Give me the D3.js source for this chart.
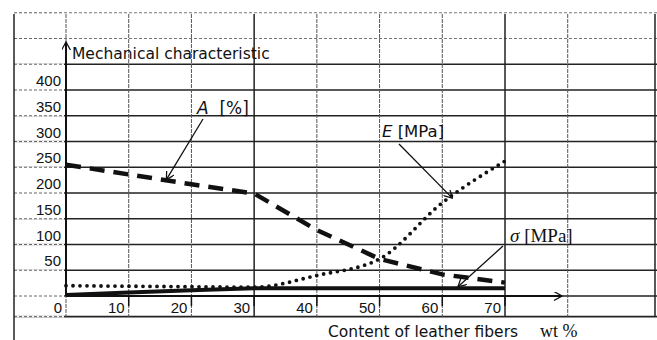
<!DOCTYPE html>
<html>
<head>
<meta charset="UTF-8">
<title>Mechanical characteristic</title>
<script src="https://cdn.jsdelivr.net/npm/d3@7"></script>
<style>
  body { margin: 0; background: #fff; }
  text { fill: #111; }
</style>
</head>
<body>
<script>
// data
var fiber = [0, 10, 20, 30, 40, 50, 60, 70];          // wt % of leather fibers
var seriesA = [255, 236, 217, 199, 128, 72, 42, 26];  // A [%]
var seriesE = [20, 19, 18, 17, 40, 72, 181, 262];     // E [MPa]
var seriesS = [2, 7, 11, 15, 15, 15, 15, 15];         // sigma [MPa]
var yTicks = [0, 50, 100, 150, 200, 250, 300, 350, 400];
var xTicks = [10, 20, 30, 40, 50, 60, 70];

var W = 657, H = 340;

var svg = d3.select("body").append("svg")
            .attr("width", W)
            .attr("height", H);

svg.append("rect").attr("width", W).attr("height", H).attr("fill", "#fff");

var x = d3.scaleLinear().domain([0, 70]).range([66, 505]);
var y = d3.scaleLinear().domain([0, 400]).range([296, 90]);

var defs = svg.append("defs");
defs.append("marker")
    .attr("id", "tip")
    .attr("viewBox", "0 0 10 10")
    .attr("refX", 9).attr("refY", 5)
    .attr("markerWidth", 9).attr("markerHeight", 9)
    .attr("markerUnits", "userSpaceOnUse")
    .attr("orient", "auto")
  .append("path")
    .attr("d", "M0,0 L9,5 L0,10")
    .attr("fill", "none")
    .attr("stroke", "#111")
    .attr("stroke-width", 1.4);

//GRID (the table behind the chart)
var rows = d3.range(-50, 600, 50).map(function (v) { return v === -50 ? y(-40) : y(v); });
var cols = [14].concat(d3.range(0, 90, 10).map(function (v) { return x(v); })).concat([655]);
var g = svg.append("g");

rows.forEach(function (ry, i) {
  var light = ry < 50;
  g.append("line")
   .attr("x1", 14).attr("x2", W)
   .attr("y1", ry).attr("y2", ry)
   .attr("stroke", light ? "#777" : "#222")
   .attr("stroke-width", light ? 1 : 1.6)
   .attr("stroke-dasharray", light ? "3,2" : null);
  // left margin cells are fainter
  g.append("line")
   .attr("x1", 14).attr("x2", 64)
   .attr("y1", ry).attr("y2", ry)
   .attr("stroke", "#fff").attr("stroke-width", 2);
  g.append("line")
   .attr("x1", 14).attr("x2", 64)
   .attr("y1", ry).attr("y2", ry)
   .attr("stroke", "#666").attr("stroke-width", 1)
   .attr("stroke-dasharray", "3,2");
});

cols.forEach(function (cx, i) {
  var bold = (i === 0 || i === 4 || i === 8 || i === cols.length - 1);
  g.append("line")
   .attr("x1", cx).attr("x2", cx)
   .attr("y1", 14).attr("y2", i === 0 ? H : y(-40))
   .attr("stroke", bold ? "#222" : "#555")
   .attr("stroke-width", bold ? 1.5 : 1)
   .attr("stroke-dasharray", bold ? null : "4,1");
});

//AXES
svg.append("line")
   .attr("x1", x(0)).attr("x2", x(0))
   .attr("y1", y(0)).attr("y2", 42)
   .attr("stroke", "#111").attr("stroke-width", 2)
   .attr("marker-end", "url(#tip)");
svg.append("line")
   .attr("x1", x(0)).attr("x2", 562)
   .attr("y1", y(0)).attr("y2", y(0))
   .attr("stroke", "#111").attr("stroke-width", 2)
   .attr("marker-end", "url(#tip)");

svg.selectAll(".xtick")
   .data(xTicks)
   .enter().append("line")
   .attr("x1", function (d) { return x(d); })
   .attr("x2", function (d) { return x(d); })
   .attr("y1", y(0)).attr("y2", y(0) + 10)
   .attr("stroke", "#111").attr("stroke-width", 1.5);

svg.selectAll(".xlab")
   .data([0].concat(xTicks))
   .enter().append("text")
   .attr("x", function (d) { return x(d) - 4; })
   .attr("y", 313)
   .attr("text-anchor", "end")
   .style("font", "15px 'Liberation Sans', sans-serif")
   .text(function (d) { return d; });

svg.selectAll(".ylab")
   .data(yTicks.slice(1))
   .enter().append("text")
   .attr("x", 61)
   .attr("y", function (d) { return y(d) - 4; })
   .attr("text-anchor", "end")
   .style("font", "15px 'Liberation Sans', sans-serif")
   .text(function (d) { return d; });

svg.append("text")
   .attr("x", 72).attr("y", 59)
   .style("font", "15.5px 'DejaVu Sans', sans-serif")
   .text("Mechanical characteristic");

var xt = svg.append("text")
   .attr("x", 328).attr("y", 337)
   .style("font", "15.5px 'DejaVu Sans', sans-serif");
xt.append("tspan").text("Content of leather fibers");
xt.append("tspan").attr("x", 540)
  .style("font", "18px 'Liberation Serif', serif").text("wt %");

//SERIES
var line = d3.line()
             .x(function (d, i) { return x(fiber[i]); })
             .y(function (d) { return y(d); });

svg.append("path")
   .attr("d", line(seriesS))
   .attr("fill", "none").attr("stroke", "#111")
   .attr("stroke-width", 4);

svg.append("path")
   .attr("d", line.curve(d3.curveMonotoneX)(seriesE))
   .attr("fill", "none").attr("stroke", "#111")
   .attr("stroke-width", 3.8)
   .attr("stroke-linecap", "round")
   .attr("stroke-dasharray", "0,7");

svg.append("path")
   .attr("d", line.curve(d3.curveLinear)(seriesA))
   .attr("fill", "none").attr("stroke", "#111")
   .attr("stroke-width", 4.5)
   .attr("stroke-dasharray", "15,9");

//LABELS with pointer lines (tip given in data units)
var notes = [
  { name: "A", unit: "  [%]", tx: 16, ty: 226, lx: 197, ly: 114, sx: 203, sy: 119, size: 17, font: "'DejaVu Sans', sans-serif" },
  { name: "E", unit: " [MPa]", tx: 61.6, ty: 190, lx: 382, ly: 137, sx: 399, sy: 144, size: 16.5, font: "'DejaVu Sans', sans-serif" },
  { name: "\u03c3", unit: " [MPa]", tx: 62.5, ty: 18, lx: 510, ly: 242, sx: 503, sy: 246, size: 19, font: "'Liberation Serif', serif" }
];

notes.forEach(function (n) {
  svg.append("line")
     .attr("x1", n.sx).attr("y1", n.sy)
     .attr("x2", x(n.tx)).attr("y2", y(n.ty))
     .attr("stroke", "#111").attr("stroke-width", 1.3)
     .attr("marker-end", "url(#tip)");
  var t = svg.append("text")
     .attr("x", n.lx).attr("y", n.ly)
     .attr("xml:space", "preserve")
     .style("white-space", "pre")
     .style("font", n.size + "px " + n.font);
  t.append("tspan").style("font-style", "italic").text(n.name);
  t.append("tspan").text(n.unit);
});
</script>
</body>
</html>
